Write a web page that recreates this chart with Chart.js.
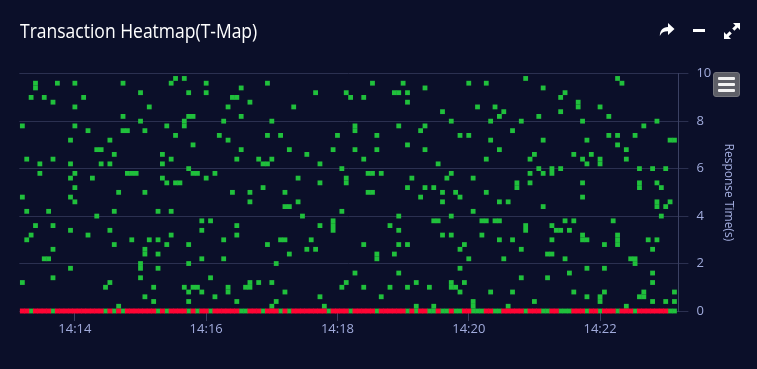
<!DOCTYPE html>
<html>
<head>
<meta charset="utf-8">
<script src="https://cdn.jsdelivr.net/npm/chart.js@4.4.0/dist/chart.umd.min.js"></script>
<style>
  html, body { margin: 0; padding: 0; background: #0b0f29; }
  #wrap { position: relative; width: 757px; height: 369px; overflow: hidden; }
  #title { position: absolute; left: 20px; top: 17px; color: #fff; font: 20px 'Open Sans', sans-serif; line-height: 28px;
    white-space: nowrap; transform: scaleX(0.875); transform-origin: 0 0; }
  .ico { position: absolute; }
  #minus { position: absolute; left: 693px; top: 29px; width: 12px; height: 3px; background: #fff; }
  #menu { position: absolute; left: 713px; top: 72px; width: 25px; height: 23px; background: #5e5f67; border: 1px solid #74757c; border-radius: 3px; }
  #menu span { position: absolute; left: 4px; width: 17px; height: 3px; background: #f2f2f2; border-radius: 1px; }
</style>
</head>
<body>
<div id="wrap">
  <canvas id="myChart" width="757" height="369"></canvas>
  <div id="title">Transaction Heatmap(T-Map)</div>
  <svg class="ico" style="left:659px;top:23px" width="16" height="14" viewBox="0 0 16 14">
    <path d="M9 0 L15.5 6 L9 12 V8.3 C5 8.2 2.6 9.6 0.8 13 C1 7.4 3.6 4.2 9 3.9 Z" fill="#fff"/>
  </svg>
  <div id="minus"></div>
  <svg class="ico" style="left:724px;top:23px" width="16" height="16" viewBox="0 0 16 16">
    <path d="M9 0 H16 V7 L13.6 4.6 L10.4 7.8 L8.2 5.6 L11.4 2.4 Z M7 16 H0 V9 L2.4 11.4 L5.6 8.2 L7.8 10.4 L4.6 13.6 Z" fill="#fff"/>
  </svg>
  <div id="menu"><span style="top:4px"></span><span style="top:10px"></span><span style="top:16px"></span></div>
</div>
<script>
// time buckets of 4 s; x = seconds after 14:00:00, first bucket centred at 14:13:12
const bucketSeconds = 4
const firstBucket = 792
const rowSize = 0.2   // response time bucket (s)

// x axis labels
const timeLabels = ['14:14', '14:16', '14:18', '14:20', '14:22']
const tickSeconds = [840, 960, 1080, 1200, 1320]

// low-count cells (green): for each time bucket, the response-time rows (x0.2 s)
const lowCells = [
  [39,24,6], [32,21,15], [45,16,0], [48,47,18], [31,29], [45,11], [21,11], [44,32,18,13,7,0], [48], [], 
  [], [36,31,28,24,17,9], [48,43,39,29,26,23], [], [45], [38,16], [28], [34,20], [34,31], [5,0],
  [36,31,17,6], [33,21,14,0], [25,1], [48,41,38,0], [38,29], [29,15], [29], [46,40,10,9,7], [38,25,13,12,3], [43,15],
  [5,2], [21,15,12,9,0], [33,31,28], [39,27,14,0], [48,32,21,16], [49,37,27], [27], [49,40,39,5], [46,41,30,14,10,4,2,0], [41,35,29,5],
  [29,5,0], [19,17,11,4], [48,46,28], [19,7,0], [29,3], [37], [40,15,11], [43,36,5,4], [45,25], [45,32,18,16,2],
  [47,41,34,0], [5,0], [44,25,23,6,5], [], [32,6], [31,26,0], [48,37,31,14], [40,32,6,1], [10,2], [37,15,0],
  [25,22,15,4], [34,22,12,0], [43], [28,23], [20], [33,13], [15], [46,13], [31,27,18,3], [1],
  [0], [34,19,18,17], [37], [30,21,5], [46,28,27,6], [45,0], [39,38,34,8], [], [45,32,14,5], [29,25],
  [48,29,25], [37,34,12,11,0], [29,3], [], [18,5], [46,12], [46,39,20,17,14,8], [48], [46,44,35,26,14,5,0], [28],
  [6,1,0], [38,24], [47,39,34,26], [5,0], [26,19,1,0], [31,19], [42,25,23,16,0], [28,0], [40,29,20,16,6,5], [25,5,0],
  [37,24,13,9,4,0], [14,6], [48,37,11], [28,21,2,1,0], [43,0], [19,16,0], [48,32,25,19], [40,36,4], [43,19,0], [41,34,23,19,15,0],
  [42,11], [23,1], [38,15,4], [27,26], [40,13,7], [49,18,17,0], [32,29,27], [33,2], [41,30], [47,36,29,22,0],
  [12,7,0], [30,29,18,15,12], [17], [45,42,30,17,0], [46,19,11,0], [17,8,0], [33,19,4], [44,43], [40,32,27,24,16,15], [36,31,15,9,3,0],
  [33], [], [43,32,31,3,2,0], [14,9,4], [41,37], [19], [49,37,35,16,15,14,0], [48], [34,32,1], [11],
  [37,11,10,0], [30,27,26,3], [39,4,3], [15], [30,13,8,6,2], [40,27,23,22,15], [26,20], [30,22,2], [36,23,0], [36,4,2,0]
]

const lowPoints = []
const hotPoints = []
lowCells.forEach((rows, i) => {
  const x = firstBucket + i * bucketSeconds
  rows.forEach(r => lowPoints.push({x: x, y: +(r * rowSize).toFixed(1)}))
  // bottom row is high count (red) unless it is listed as green
  if (!rows.includes(0)) hotPoints.push({x: x, y: 0})
})

const labelColor = '#a1abdc'
const ctx = document.getElementById('myChart').getContext('2d')
new Chart(ctx, {
  type: 'scatter',
  data: {
    datasets: [
      { data: hotPoints, backgroundColor: '#ff0534', borderWidth: 0, pointStyle: 'rect', pointRadius: 3.5, clip: false },
      { data: lowPoints, backgroundColor: '#20c03c', borderWidth: 0, pointStyle: 'rect', pointRadius: 3.4, clip: false }
    ]
  },
  options: {
    responsive: false,
    animation: false,
    events: [],
    layout: { padding: { left: 19.3, right: 21.8, top: 73.7, bottom: 0 } },
    plugins: { legend: { display: false }, tooltip: { enabled: false } },
    scales: {
      x: {
        type: 'linear', min: 789.2, max: 1391.6,
        afterBuildTicks: s => { s.ticks = tickSeconds.map(v => ({ value: v })) },
        afterFit: s => { s.height = 58 },
        grid: { drawOnChartArea: false, drawTicks: true, tickLength: 10, color: '#3b4163' },
        border: { display: false },
        ticks: { color: labelColor, padding: 0, maxRotation: 0, font: { family: 'Open Sans', size: 13 },
          callback: (v, i) => timeLabels[i] }
      },
      y: {
        position: 'right', min: 0, max: 10,
        afterFit: s => { s.width = 56.8 },
        grid: { color: '#2b3050', tickLength: 10 },
        border: { display: true, color: '#3b4163' },
        ticks: { stepSize: 2, color: labelColor, padding: 8, font: { family: 'Open Sans', size: 13 } },
        title: { display: true, text: 'Response Time(s)', color: labelColor, padding: 0, font: { family: 'Open Sans', size: 12 } }
      }
    }
  }
})
</script>
</body>
</html>
